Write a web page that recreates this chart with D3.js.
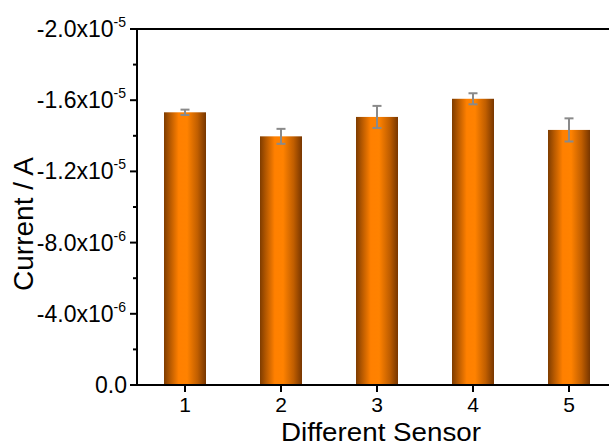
<!DOCTYPE html>
<html><head><meta charset="utf-8">
<script src="https://cdn.jsdelivr.net/npm/d3@7/dist/d3.min.js"></script>
<style>body{margin:0;background:#fff}svg{display:block;font-family:"Liberation Sans",Arial,sans-serif}</style>
</head><body>
<svg id="c" width="609" height="446"></svg>
<script>
const sensors = [1, 2, 3, 4, 5];
const currents = [-1.532e-5, -1.397e-5, -1.506e-5, -1.608e-5, -1.433e-5];
const errors = [0.15e-6, 0.42e-6, 0.62e-6, 0.31e-6, 0.65e-6];
const yTicks = [0, -4e-6, -8e-6, -1.2e-5, -1.6e-5, -2.0e-5];
const yTickLabels = [["0.0", ""], ["-4.0x10", "-6"], ["-8.0x10", "-6"], ["-1.2x10", "-5"], ["-1.6x10", "-5"], ["-2.0x10", "-5"]];

const svg = d3.select("#c");
const L = 137, T = 29, B = 385;
const x = d3.scaleLinear().domain([0.5, 5.5]).range([L, L + 480]);
const y = d3.scaleLinear().domain([0, -2.0e-5]).range([B, T]);

const defs = svg.append("defs");
const g = defs.append("linearGradient").attr("id", "bg").attr("x1", "0").attr("x2", "1").attr("y1", "0").attr("y2", "0");
[[0, "#7e3c00"], [0.15, "#b85a00"], [0.35, "#ff8000"], [0.55, "#ff8200"], [0.8, "#c05e00"], [1, "#773600"]]
  .forEach(([o, c]) => g.append("stop").attr("offset", o).attr("stop-color", c));

const bw = 42;
svg.selectAll("rect.bar").data(sensors).enter().append("rect")
  .attr("x", (d) => x(d) - bw / 2)
  .attr("y", (d, i) => y(currents[i]))
  .attr("width", bw)
  .attr("height", (d, i) => B - y(currents[i]))
  .attr("fill", "url(#bg)");

// error bars
const eg = svg.append("g").attr("stroke", "#8a8a8a").attr("stroke-width", 2);
sensors.forEach((d, i) => {
  const cx = x(d);
  const y1 = y(currents[i] - errors[i]), y2 = y(currents[i] + errors[i]);
  eg.append("line").attr("x1", cx).attr("x2", cx).attr("y1", y1).attr("y2", y2);
  eg.append("line").attr("x1", cx - 4.5).attr("x2", cx + 4.5).attr("y1", y1).attr("y2", y1);
  eg.append("line").attr("x1", cx - 4.5).attr("x2", cx + 4.5).attr("y1", y2).attr("y2", y2);
});

// axes
const ax = svg.append("g").attr("stroke", "#000").attr("stroke-width", 2);
ax.append("line").attr("x1", L).attr("x2", L).attr("y1", T - 1).attr("y2", B + 1);
ax.append("line").attr("x1", L - 1).attr("x2", 609).attr("y1", B).attr("y2", B);
ax.append("line").attr("x1", L - 1).attr("x2", 609).attr("y1", T).attr("y2", T);

// y ticks
yTicks.forEach((v, i) => {
  ax.append("line").attr("x1", L - 7).attr("x2", L).attr("y1", y(v)).attr("y2", y(v));
  if (i < yTicks.length - 1) {
    const m = (v + yTicks[i + 1]) / 2;
    ax.append("line").attr("x1", L - 4).attr("x2", L).attr("y1", y(m)).attr("y2", y(m));
  }
});
// x ticks
sensors.forEach((d) => {
  ax.append("line").attr("x1", x(d)).attr("x2", x(d)).attr("y1", B).attr("y2", B + 7);
});

// y tick labels
yTickLabels.forEach((lab, i) => {
  const yy = y(yTicks[i]);
  if (lab[1] === "") {
    svg.append("text").attr("x", L - 10).attr("y", yy + 8).attr("text-anchor", "end")
      .attr("font-size", 23).text(lab[0]);
  } else {
    const t = svg.append("text").attr("x", L - 11).attr("y", yy + 8).attr("text-anchor", "end").attr("font-size", 23);
    t.append("tspan").text(lab[0]);
    t.append("tspan").attr("font-size", 14).attr("dy", -10).text(lab[1]);
  }
});

// x tick labels
sensors.forEach((d) => {
  svg.append("text").attr("x", x(d)).attr("y", 412).attr("text-anchor", "middle").attr("font-size", 21).text(d);
});

// titles
svg.append("text").attr("x", 381).attr("y", 440.5).attr("text-anchor", "middle").attr("font-size", 25)
  .attr("textLength", 200).attr("lengthAdjust", "spacingAndGlyphs").text("Different Sensor");
svg.append("text").attr("transform", "translate(33,224) rotate(-90)").attr("text-anchor", "middle").attr("font-size", 28).text("Current / A");
</script>
</body></html>
